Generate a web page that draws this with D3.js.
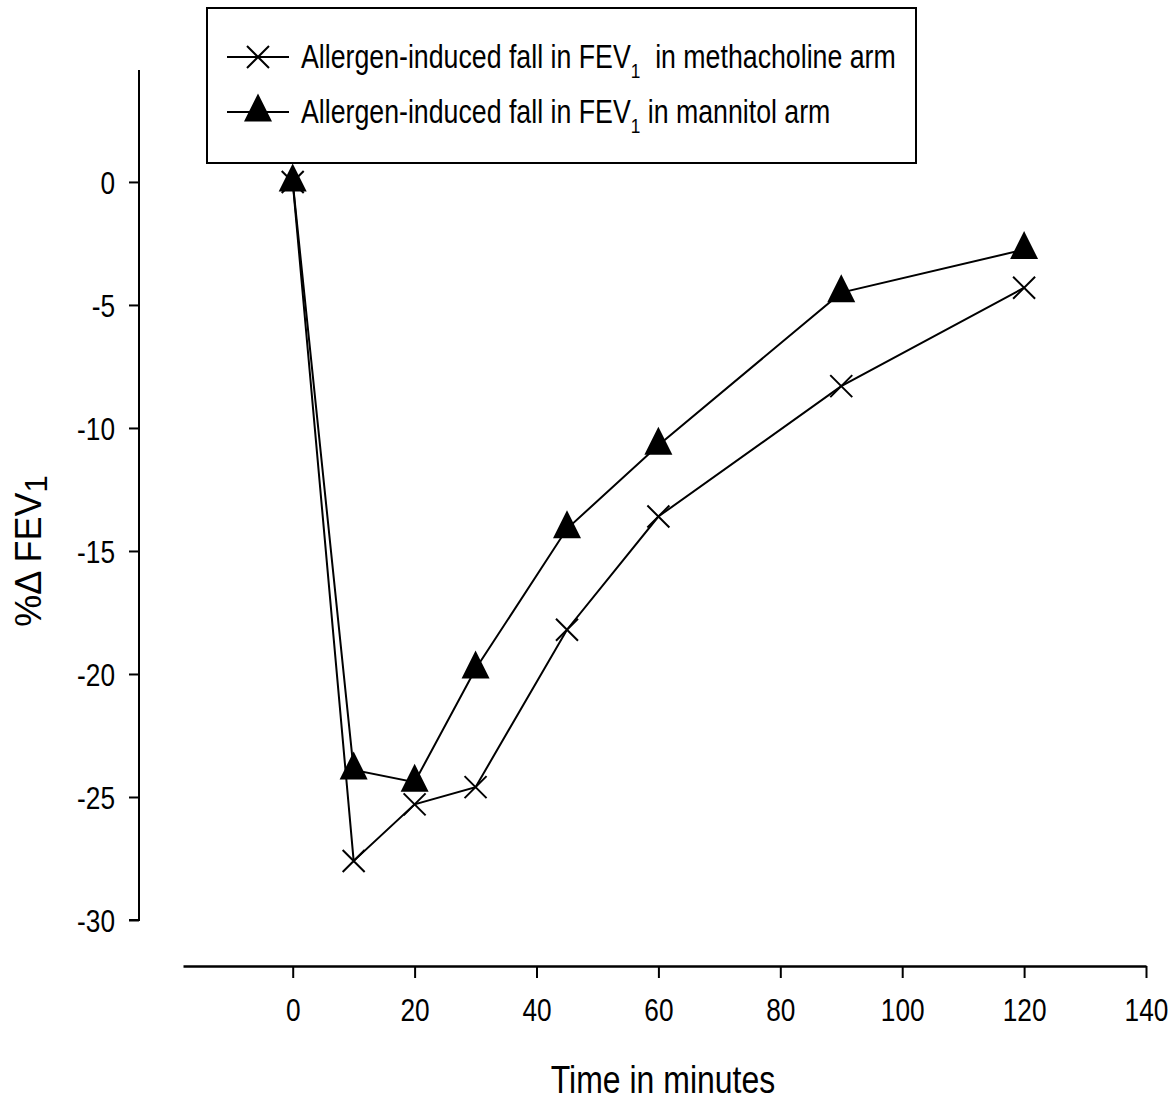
<!DOCTYPE html>
<html lang="en">
<head>
<meta charset="UTF-8">
<title>FEV1 fall</title>
<script src="https://d3js.org/d3.v7.min.js"></script>
<style>
  body { margin: 0; background: #fff; }
  text { font-family: "Liberation Sans", Arial, sans-serif; fill: #000; }
</style>
</head>
<body>
<svg></svg>
<script>
const width = 1175, height = 1106;

// data
const minutes = [0, 10, 20, 30, 45, 60, 90, 120];
const methacholine = [0, -27.6, -25.3, -24.6, -18.2, -13.6, -8.3, -4.3];
const mannitol = [0, -23.9, -24.4, -19.8, -14.1, -10.7, -4.5, -2.75];
const xTicks = [0, 20, 40, 60, 80, 100, 120, 140];
const yTicks = [0, -5, -10, -15, -20, -25, -30];

// no narrow font installed, so squeeze Liberation Sans like Arial Narrow
const narrow = 0.82;

const svg = d3.select("svg").attr("width", width).attr("height", height);

const x = d3.scaleLinear().domain([-18, 140]).range([183, 1146]);
const y = d3.scaleLinear().domain([-30, 4.55]).range([920, 70]);

// y axis
const yAxis = svg.append("g")
  .attr("transform", "translate(139,0)")
  .call(d3.axisLeft(y).tickValues(yTicks).tickSize(10).tickFormat(d => String(d)));
yAxis.select(".domain").attr("d", `M0,${y(4.55)}V${y(-30)}H-10`).attr("stroke-width", 2);
yAxis.selectAll(".tick line").attr("stroke-width", 2);
yAxis.selectAll(".tick text")
  .style("font-size", "32px")
  .attr("transform", `scale(${narrow},1)`)
  .attr("x", -24 / narrow)
  .attr("dy", "0.36em");

// x axis
const xAxis = svg.append("g")
  .attr("transform", "translate(0,966)")
  .call(d3.axisBottom(x).tickValues(xTicks).tickSize(12).tickPadding(20).tickSizeOuter(0));
xAxis.select(".domain").attr("stroke-width", 2.5);
xAxis.selectAll(".tick line").attr("stroke-width", 2);
xAxis.selectAll(".tick text")
  .style("font-size", "32px")
  .attr("transform", `scale(${narrow},1)`);

// axis titles
svg.append("text")
  .attr("transform", `translate(663,1093) scale(${narrow},1)`)
  .attr("text-anchor", "middle")
  .style("font-size", "39px")
  .text("Time in minutes");

const yt = svg.append("text")
  .attr("transform", "translate(41,551) rotate(-90)")
  .attr("text-anchor", "middle")
  .style("font-size", "36px");
yt.append("tspan").text("%\u0394 FEV");
yt.append("tspan").attr("dy", 6).style("font-size", "31px").text("1");

// markers
const triPath = s => `M0,${-s * 0.66}L${s * 0.5},${s * 0.34}L${-s * 0.5},${s * 0.34}Z`;
const crossPath = s => `M${-s},${-s}L${s},${s}M${-s},${s}L${s},${-s}`;

const line = d3.line().x(d => x(d[0])).y(d => y(d[1]));
const methPts = minutes.map((m, i) => [m, methacholine[i]]);
const manPts = minutes.map((m, i) => [m, mannitol[i]]);

svg.append("path").datum(methPts).attr("d", line)
  .attr("fill", "none").attr("stroke", "#000").attr("stroke-width", 2);
svg.append("path").datum(manPts).attr("d", line)
  .attr("fill", "none").attr("stroke", "#000").attr("stroke-width", 2);

svg.selectAll(".cross").data(methPts).join("path")
  .attr("class", "cross")
  .attr("transform", d => `translate(${x(d[0])},${y(d[1])})`)
  .attr("d", crossPath(11))
  .attr("stroke", "#000").attr("stroke-width", 2).attr("fill", "none");

svg.selectAll(".tri").data(manPts).join("path")
  .attr("class", "tri")
  .attr("transform", d => `translate(${x(d[0])},${y(d[1])})`)
  .attr("d", triPath(28))
  .attr("fill", "#000");

// legend
const legend = svg.append("g");
legend.append("rect")
  .attr("x", 207).attr("y", 8).attr("width", 709).attr("height", 155)
  .attr("fill", "#fff").attr("stroke", "#000").attr("stroke-width", 2);

const entries = [
  { label: "Allergen-induced fall in FEV", tail: "  in methacholine arm", marker: "cross", y: 57 },
  { label: "Allergen-induced fall in FEV", tail: " in mannitol arm", marker: "tri", y: 112 }
];
entries.forEach(e => {
  legend.append("line").attr("x1", 227).attr("x2", 289).attr("y1", e.y).attr("y2", e.y)
    .attr("stroke", "#000").attr("stroke-width", 2);
  const m = legend.append("path").attr("transform", `translate(258,${e.y})`);
  if (e.marker === "cross") {
    m.attr("d", crossPath(11)).attr("stroke", "#000").attr("stroke-width", 2).attr("fill", "none");
  } else {
    m.attr("d", triPath(28)).attr("fill", "#000");
  }
  const t = legend.append("text")
    .attr("transform", `translate(301,${e.y + 11}) scale(${narrow},1)`)
    .style("font-size", "32.6px")
    .style("white-space", "pre");
  t.append("tspan").text(e.label);
  t.append("tspan").attr("dy", 10).style("font-size", "21px").text("1");
  t.append("tspan").attr("dy", -10).text(e.tail);
});
</script>
</body>
</html>
